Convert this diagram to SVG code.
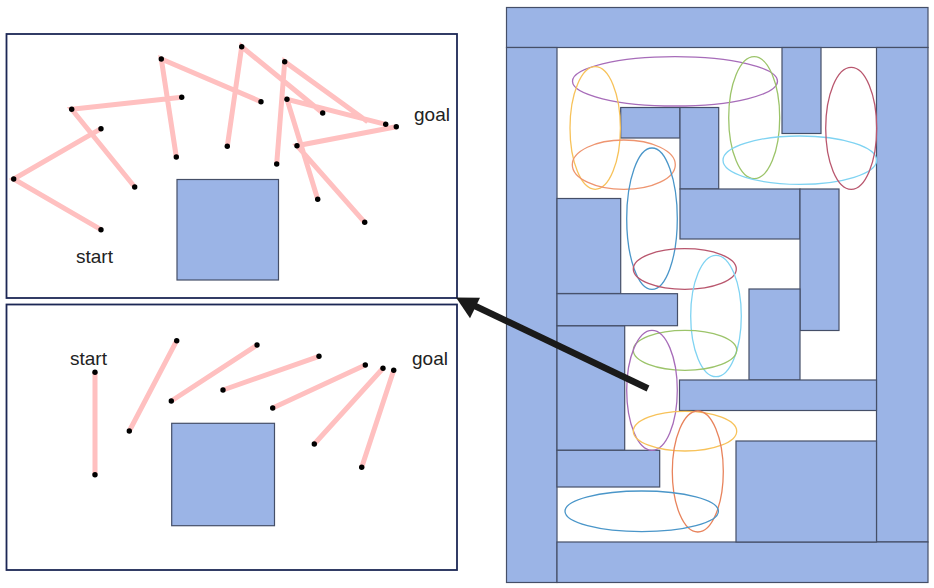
<svg xmlns="http://www.w3.org/2000/svg" width="934" height="588" viewBox="0 0 934 588">
<style>
.frame{fill:#fff;stroke:#1c2755;stroke-width:1.8}
.ob{fill:#9bb4e6;stroke:#454f68;stroke-width:1.2}
.el{fill:none;stroke-width:1.3}
.arm{fill:none;stroke:#ffc0c0;stroke-width:5;stroke-linejoin:miter}
.j{fill:#000}
text{font-family:"Liberation Sans",Arial,sans-serif;font-size:19px;fill:#222}
</style>
<defs><circle id="d" r="2.7" class="j"/></defs>
<rect width="934" height="588" fill="#fff"/>
<g id="top-panel">
<rect class="frame" x="6.5" y="34" width="450.5" height="264"/>
<rect class="ob" x="177" y="179.5" width="101.5" height="100.5"/>
<path class="arm" d="M101 229.7L13.7 179L101 128.7M134.7 187L71.7 109.3L181.7 97.3M176.3 157L161.3 59L261 101.7M227.3 146.3L241.7 46.7L322.7 113M276.7 164L284.7 61.7L367.7 121.7M317.7 199.3L287 99.3L385.7 124.3M364.7 222.3L297 145.7L396.3 126.7"/>
<g>
<use href="#d" x="101" y="229.7"/><use href="#d" x="13.7" y="179"/><use href="#d" x="101" y="128.7"/><use href="#d" x="134.7" y="187"/><use href="#d" x="71.7" y="109.3"/><use href="#d" x="181.7" y="97.3"/><use href="#d" x="176.3" y="157"/><use href="#d" x="161.3" y="59"/><use href="#d" x="261" y="101.7"/><use href="#d" x="227.3" y="146.3"/><use href="#d" x="241.7" y="46.7"/><use href="#d" x="322.7" y="113"/><use href="#d" x="276.7" y="164"/><use href="#d" x="284.7" y="61.7"/><use href="#d" x="317.7" y="199.3"/><use href="#d" x="287" y="99.3"/><use href="#d" x="385.7" y="124.3"/><use href="#d" x="364.7" y="222.3"/><use href="#d" x="297" y="145.7"/><use href="#d" x="396.3" y="126.7"/>
</g>
<text x="76" y="263">start</text>
<text x="414" y="121">goal</text>
</g>
<g id="bottom-panel">
<rect class="frame" x="6.5" y="304.5" width="450.5" height="265.5"/>
<rect class="ob" x="171.7" y="423.3" width="102.8" height="102.4"/>
<path class="arm" d="M95 372.3L95 474.7M176.7 340.7L129.3 431M171.3 401L257 345M223 390L319 356.3M272.7 408L365.3 365M314.3 444L383 368.3M361.7 467.3L393.7 370.3"/>
<g>
<use href="#d" x="95" y="372.3"/><use href="#d" x="95" y="474.7"/><use href="#d" x="176.7" y="340.7"/><use href="#d" x="129.3" y="431"/><use href="#d" x="171.3" y="401"/><use href="#d" x="257" y="345"/><use href="#d" x="223" y="390"/><use href="#d" x="319" y="356.3"/><use href="#d" x="272.7" y="408"/><use href="#d" x="365.3" y="365"/><use href="#d" x="314.3" y="444"/><use href="#d" x="383" y="368.3"/><use href="#d" x="361.7" y="467.3"/><use href="#d" x="393.7" y="370.3"/>
</g>
<text x="70" y="365">start</text>
<text x="412" y="365">goal</text>
</g>
<g id="maze">
<rect class="ob" x="506.5" y="7.5" width="421.5" height="40"/>
<rect class="ob" x="506.5" y="47.5" width="50.5" height="535"/>
<rect class="ob" x="876.5" y="47.5" width="51.5" height="494.5"/>
<rect class="ob" x="557" y="542" width="371" height="40.5"/>
<rect class="ob" x="782" y="47.5" width="39" height="86"/>
<rect class="ob" x="620.7" y="107.5" width="59.3" height="30.5"/>
<rect class="ob" x="680" y="107.5" width="38.7" height="81.5"/>
<rect class="ob" x="680" y="189" width="120" height="50"/>
<rect class="ob" x="800" y="189" width="39" height="141.5"/>
<rect class="ob" x="557" y="198.5" width="63.7" height="95"/>
<rect class="ob" x="557" y="325.7" width="67.7" height="124.6"/>
<rect class="ob" x="557" y="293.7" width="120.5" height="32"/>
<rect class="ob" x="749" y="289" width="51" height="91"/>
<rect class="ob" x="679.5" y="380" width="197" height="30.5"/>
<rect class="ob" x="557" y="450.3" width="102.7" height="36.7"/>
<rect class="ob" x="736" y="441" width="140.5" height="101"/>
</g>
<g id="ellipses">
<ellipse class="el" cx="675" cy="81.3" rx="102.5" ry="24.7" stroke="#a76cb9"/>
<ellipse class="el" cx="595.2" cy="128" rx="25.2" ry="61.3" stroke="#f7c25a"/>
<ellipse class="el" cx="623.8" cy="164.7" rx="51.5" ry="24.7" stroke="#ee9570"/>
<ellipse class="el" cx="652" cy="218.7" rx="25.3" ry="70.7" stroke="#4a96c9"/>
<ellipse class="el" cx="754.2" cy="117.7" rx="25.5" ry="61" stroke="#9cc46a"/>
<ellipse class="el" cx="799.8" cy="160.2" rx="76.8" ry="24.2" stroke="#7fd3f2"/>
<ellipse class="el" cx="851.2" cy="128.3" rx="25.5" ry="61" stroke="#b9576e"/>
<ellipse class="el" cx="684.8" cy="269" rx="51.5" ry="20.3" stroke="#b9576e"/>
<ellipse class="el" cx="716" cy="316" rx="25.3" ry="60.7" stroke="#7fd3f2"/>
<ellipse class="el" cx="685" cy="350.3" rx="51.7" ry="20" stroke="#9cc46a"/>
<ellipse class="el" cx="652" cy="390.3" rx="25.3" ry="60" stroke="#a76cb9"/>
<ellipse class="el" cx="685" cy="431.2" rx="51.7" ry="19.8" stroke="#f7c25a"/>
<ellipse class="el" cx="697.8" cy="471.5" rx="25.5" ry="60.5" stroke="#e8835c"/>
<ellipse class="el" cx="641.7" cy="511.3" rx="76.7" ry="20.3" stroke="#4a96c9"/>
</g>
<g id="connectors">
<path d="M648 388.5L474 305.5" stroke="#1a1a1a" stroke-width="6.5" fill="none"/>
<path d="M456 297.5L480 297.7L470 318.3Z" fill="#1a1a1a"/>
</g>
</svg>
